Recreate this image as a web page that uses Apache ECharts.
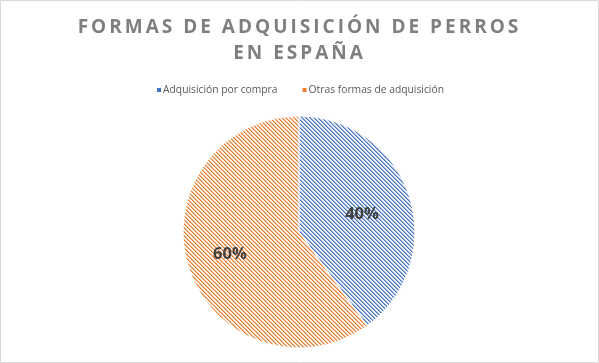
<!DOCTYPE html>
<html><head><meta charset="utf-8">
<script src="https://cdn.jsdelivr.net/npm/echarts@6/dist/echarts.min.js"></script>
<style>html,body{margin:0;padding:0;background:#fff}#c{width:599px;height:363px}</style>
</head><body><div id="c"></div>
<script>
const categories = ['Adquisición por compra', 'Otras formas de adquisición'];
const values = [40, 60];
const colors = ['#4472C4', '#ED7D31'];
const titleText = 'FORMAS DE ADQUISICIÓN DE PERROS\nEN ESPAÑA';

// letter spacing for the title text (Excel-style spaced title)
(function () {
  const P = CanvasRenderingContext2D.prototype;
  const orig = P.fillText;
  P.fillText = function (t, x, y, w) {
    if (this.font && this.font.indexOf('19px') >= 0 && 'letterSpacing' in this) {
      const prev = this.letterSpacing;
      this.letterSpacing = '3px';
      const r = orig.call(this, t, x, y, w);
      this.letterSpacing = prev;
      return r;
    }
    return orig.call(this, t, x, y, w);
  };
})();

function mix(hex, a) {
  const n = parseInt(hex.slice(1), 16);
  const r = (n >> 16) & 255, g = (n >> 8) & 255, b = n & 255;
  const f = v => Math.round(v * a + 255 * (1 - a));
  return 'rgb(' + f(r) + ',' + f(g) + ',' + f(b) + ')';
}

function hatch(color) {
  const c = document.createElement('canvas');
  c.width = 4; c.height = 4;
  const g = c.getContext('2d');
  g.fillStyle = mix(color, 0.08); g.fillRect(0, 0, 4, 4);
  for (let y = 0; y < 4; y++) {
    g.fillStyle = color; g.fillRect(y, y, 1, 1);
    g.fillStyle = mix(color, 0.55); g.fillRect((y + 1) % 4, y, 1, 1);
  }
  return { image: c, repeat: 'repeat' };
}

const labelShift = [[5, 1], [-11, 3]];

const chart = echarts.init(document.getElementById('c'), null, { renderer: 'canvas' });
chart.setOption({
  animation: false,
  title: {
    text: titleText, left: 'center', top: 10,
    textStyle: { fontFamily: 'Open Sans', fontWeight: 'bold', fontSize: 19, color: '#7f7f7f', lineHeight: 26 }
  },
  legend: {
    top: 80, left: 'center', itemWidth: 6, itemHeight: 6, itemGap: 23, icon: 'rect',
    textStyle: { fontFamily: 'Open Sans', fontSize: 10.3, color: '#595959', padding: [0, 0, 0, -4] },
    data: categories.map((n, i) => ({ name: n, itemStyle: { color: colors[i] } }))
  },
  graphic: [{ type: 'rect', shape: { x: 0.5, y: 0.5, width: 598, height: 362 }, style: { fill: 'none', stroke: '#d9d9d9', lineWidth: 1 }, silent: true }],
  series: [{
    type: 'pie', center: [299, 232], radius: 116, startAngle: 90, clockwise: true,
    label: { position: 'inside', formatter: '{d}%', fontFamily: 'Open Sans', fontWeight: 'bold', fontSize: 16.5, color: '#404040' },
    labelLine: { show: false },
    labelLayout: p => ({ dx: labelShift[p.dataIndex][0], dy: labelShift[p.dataIndex][1] }),
    itemStyle: { borderColor: '#ffffff', borderWidth: 1 },
    emphasis: { disabled: true },
    data: categories.map((n, i) => ({ name: n, value: values[i], itemStyle: { color: hatch(colors[i]) } }))
  }]
});
</script></body></html>
